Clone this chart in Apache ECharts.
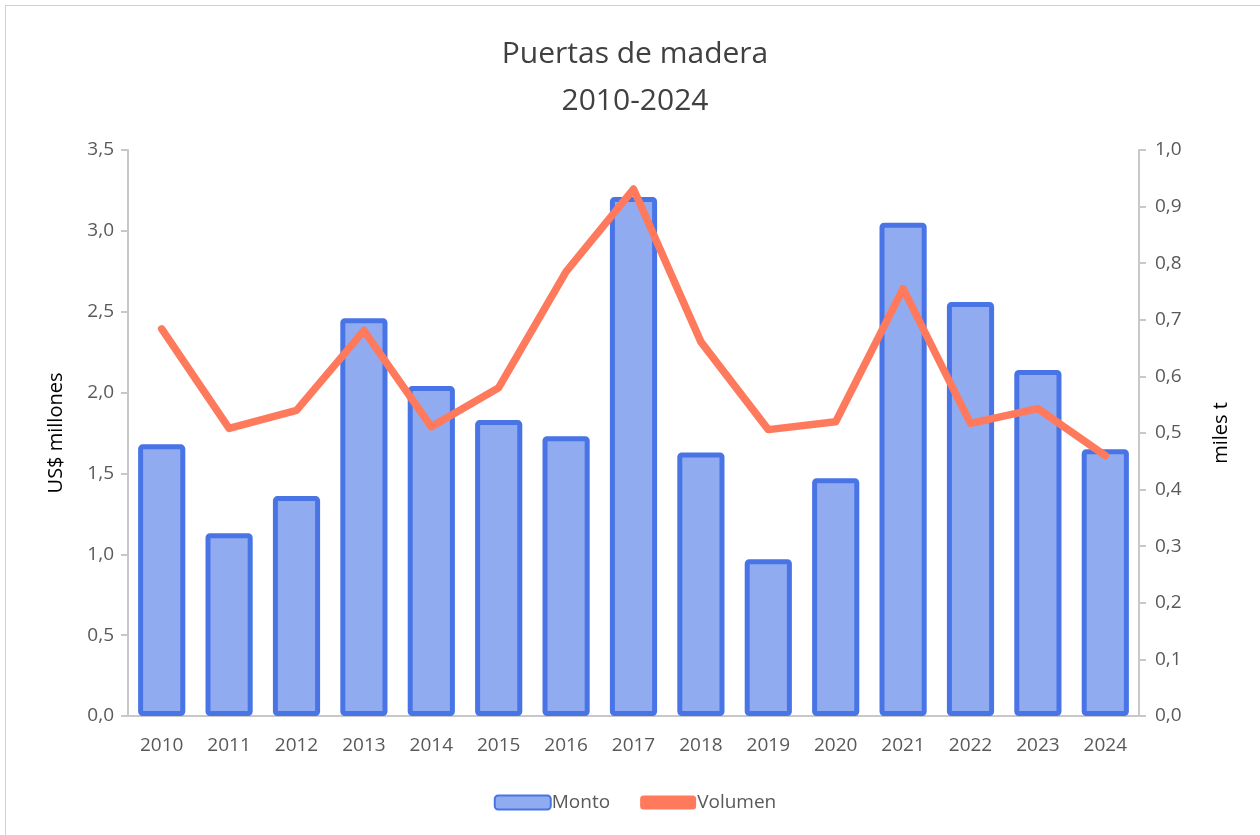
<!DOCTYPE html>
<html><head><meta charset="utf-8">
<script src="https://cdn.jsdelivr.net/npm/echarts@6/dist/echarts.min.js"></script>
<style>html,body{margin:0;padding:0;background:#fff;overflow:hidden}#c{position:absolute;left:5px;top:5px;width:1260px;height:835px;border:1px solid #d0d0d0;box-sizing:border-box}</style>
</head><body><div id="c"></div>
<script>
const categories = ['2010','2011','2012','2013','2014','2015','2016','2017','2018','2019','2020','2021','2022','2023','2024'];
const monto = [1.68,1.13,1.36,2.46,2.04,1.83,1.73,3.21,1.63,0.97,1.47,3.05,2.56,2.14,1.65];
const volumen = [0.684,0.508,0.540,0.681,0.511,0.580,0.785,0.931,0.661,0.506,0.520,0.755,0.517,0.543,0.460];
const ff = '"Open Sans", "Noto Sans", sans-serif';
const chart = echarts.init(document.getElementById('c'));
const fmt = v => v.toFixed(1).replace('.', ',');
chart.setOption({
  animation:false,
  title:{text:'Puertas de madera\n2010-2024',left:'center',top:20,textStyle:{fontFamily:ff,fontSize:30,fontWeight:'normal',color:'#404040',lineHeight:47}},
  grid:{left:122,right:125,top:144,bottom:123},
  legend:{bottom:22,left:'center',itemGap:30,itemWidth:56,itemHeight:14,textStyle:{fontFamily:ff,fontSize:19,color:'#595959',padding:[0,0,0,-4]},data:[{name:'Monto'},{name:'Volumen',icon:'roundRect'}]},
  xAxis:{type:'category',data:categories,axisLine:{lineStyle:{color:'#c8c8c8',width:2}},axisTick:{show:false},axisLabel:{fontFamily:ff,fontSize:19,color:'#595959',margin:20}},
  yAxis:[
    {type:'value',min:0,max:3.5,interval:0.5,name:'US$ millones',nameLocation:'middle',nameGap:62,nameTextStyle:{fontFamily:ff,fontSize:20,color:'#000'},
     axisLine:{show:true,lineStyle:{color:'#c8c8c8',width:2}},axisTick:{show:true,inside:false,length:7,lineStyle:{color:'#c8c8c8',width:2}},splitLine:{show:false},
     axisLabel:{fontFamily:ff,fontSize:19,color:'#595959',margin:14,formatter:fmt}},
    {type:'value',min:0,max:1,interval:0.1,name:'miles t',nameLocation:'middle',nameGap:72,nameTextStyle:{fontFamily:ff,fontSize:20,color:'#000'},
     axisLine:{show:true,lineStyle:{color:'#c8c8c8',width:2}},axisTick:{show:true,length:7,lineStyle:{color:'#c8c8c8',width:2}},splitLine:{show:false},
     axisLabel:{fontFamily:ff,fontSize:19,color:'#595959',margin:16,formatter:fmt}}
  ],
  series:[
    {name:'Monto',type:'bar',data:monto,barCategoryGap:'30%',itemStyle:{color:'#91abf0',borderColor:'#4874e6',borderWidth:5,borderRadius:2}},
    {name:'Volumen',type:'line',yAxisIndex:1,data:volumen,symbol:'none',lineStyle:{color:'#ff7a5c',width:7.5,cap:'round',join:'round'},itemStyle:{color:'#ff7a5c'}}
  ]
});
</script></body></html>
